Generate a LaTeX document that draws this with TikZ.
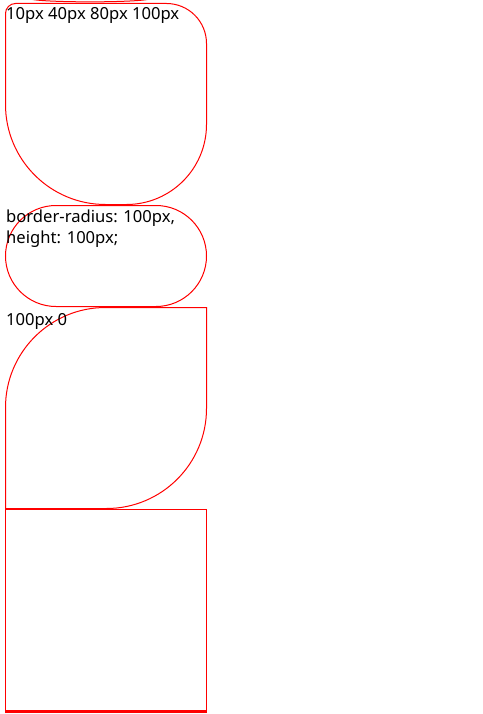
\documentclass[tikz,border=0pt]{standalone}
\usepackage{fontspec}
\setmainfont{Noto Sans}
\begin{document}
\begin{tikzpicture}[x=1pt,y=-1pt,
  redline/.style={draw=red,line width=1pt},
  lbl/.style={anchor=base west,inner sep=0pt,font=\fontsize{16.6}{21}\selectfont,text=black}]
\useasboundingbox (0,0) rectangle (482,714);
\fill[white] (0,0) rectangle (482,714);
% bottom of previous element
\draw[redline] (30,-1) .. controls (45,2.8) and (135,2.8) .. (150,-1);
% box 1: 10px 40px 80px 100px
\draw[redline] (15.5,3.5) -- (166.5,3.5) arc[start angle=270,end angle=360,radius=40]
  -- (206.5,124.5) arc[start angle=0,end angle=90,radius=80]
  -- (105.5,204.5) arc[start angle=90,end angle=180,radius=100]
  -- (5.5,13.5) arc[start angle=180,end angle=270,radius=10] -- cycle;
\node[lbl] (t1) at (6,20) {10px 40px 80px 100px};
% box 2: pill
\draw[redline] (56,205.5) -- (156,205.5) arc[start angle=270,end angle=450,radius=50.5]
  -- (56,306.5) arc[start angle=90,end angle=270,radius=50.5] -- cycle;
\node[lbl] (t2) at (6,222) {border-radius: 100px,};
\node[lbl] (t3) at (6,243) {height: 100px;};
% box 3: 100px 0
\draw[redline] (105.5,307.5) -- (206.5,307.5) -- (206.5,408.5) arc[start angle=0,end angle=90,radius=100]
  -- (5.5,508.5) -- (5.5,407.5) arc[start angle=180,end angle=270,radius=100] -- cycle;
\node[lbl] (t4) at (6,325) {100px 0};
% box 4
\draw[redline] (5.5,713) -- (5.5,509.5) -- (206.5,509.5) -- (206.5,713);
\draw[draw=red,line width=3pt] (5,711.5) -- (207,711.5);
\end{tikzpicture}
\end{document}
